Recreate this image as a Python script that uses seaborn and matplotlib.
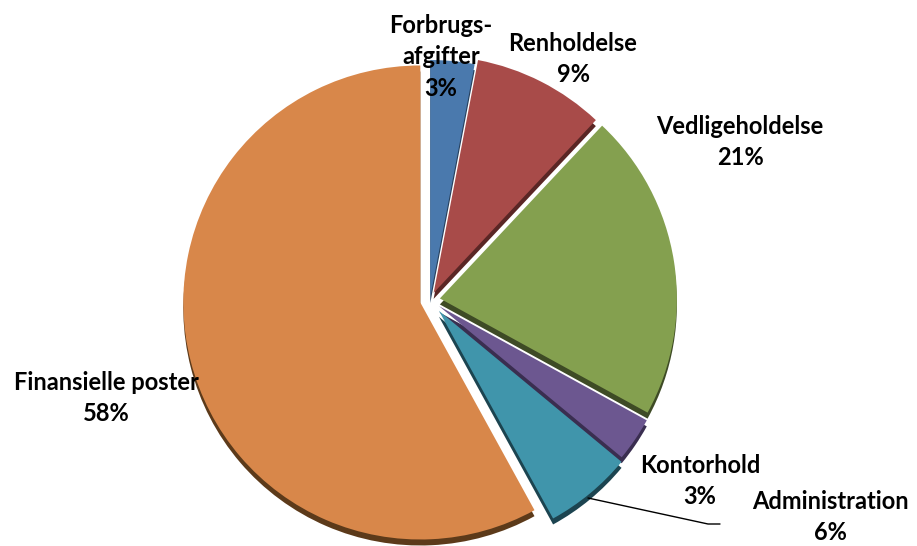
import matplotlib
matplotlib.use("Agg")
import matplotlib.pyplot as plt
import seaborn as sns

# ---- data ----
categories = ["Forbrugs-\nafgifter", "Renholdelse", "Vedligeholdelse",
              "Kontorhold", "Administration", "Finansielle poster"]
values = [3, 9, 21, 3, 6, 58]
top_colors = ["#4A79AD", "#A84B49", "#84A04F", "#6C5790", "#4095AB", "#D8874A"]
side_colors = ["#27415E", "#5A2625", "#3E4B25", "#3A2E50", "#1C4450", "#5C3A1A"]
explode = [3, 8, 10, 11, 14, 10]   # offsets in pixels

# label centres (pixels, top-left origin)
label_pos = [(441, 57), (573, 59), (740, 142), (700, 481), (830, 517), (106, 398)]

W, H = 917, 546
sns.set_theme(style="white")
plt.rcParams["font.family"] = ["Lato", "DejaVu Sans"]

fig = plt.figure(figsize=(W / 100, H / 100), dpi=100)
ax = fig.add_axes([0, 0, 1, 1])

cx, cy, R = 430, 300, 237

# 3D side (shadow) layer
ax.pie(values, radius=R, center=(cx, H - cy - 6), startangle=90,
       counterclock=False, colors=side_colors, explode=explode,
       wedgeprops=dict(linewidth=0))
# top faces
ax.pie(values, radius=R, center=(cx, H - cy), startangle=90,
       counterclock=False, colors=top_colors, explode=explode,
       wedgeprops=dict(linewidth=0))

for name, v, (x, y) in zip(categories, values, label_pos):
    ax.text(x, H - y, f"{name}\n{v}%", ha="center", va="center",
            fontsize=17, fontweight="bold", color="black", linespacing=1.45)

# leader line for Administration
ax.plot([588, 708, 720], [H - 498, H - 524, H - 524], color="black", lw=1)

ax.set_xlim(0, W)
ax.set_ylim(0, H)
ax.set_aspect("equal")
ax.axis("off")
fig.savefig("out.png", dpi=100)
